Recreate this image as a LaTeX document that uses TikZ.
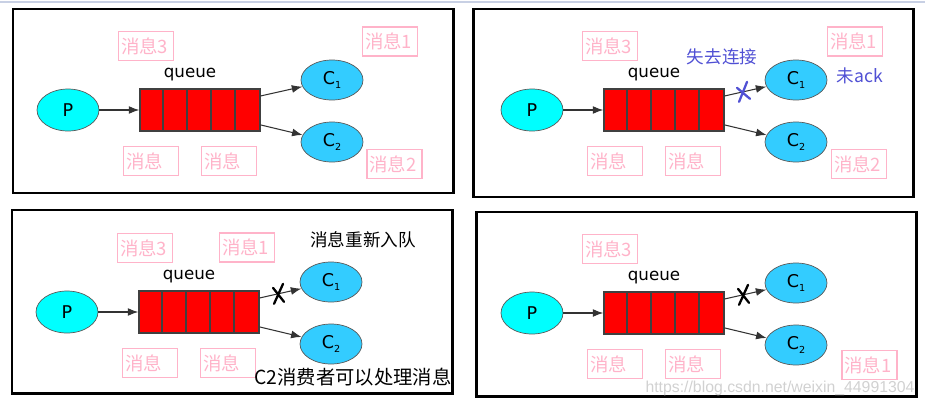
\documentclass[tikz,border=0pt]{standalone}
\usepackage{fontspec}
\setmainfont{DejaVu Sans}
\newfontfamily\cjk{Noto Sans CJK SC}
\newfontfamily\wmfont{Liberation Sans}
\usetikzlibrary{arrows.meta,shapes.geometric,calc}
\definecolor{msgpink}{HTML}{FFB3C9}
\definecolor{pcyan}{HTML}{00FFFF}
\definecolor{cblue}{HTML}{33CCFF}
\definecolor{lostblue}{HTML}{5050D4}
\definecolor{topgray}{HTML}{C8D0E4}
\newcommand\csub[1]{C\raisebox{-0.45ex}{\fontsize{5.5}{6}\selectfont #1}}

\begin{document}
\begin{tikzpicture}[x=0.02cm, y=-0.02cm,
    prod/.style={ellipse, draw=black!65, fill=pcyan, minimum width=1.24cm, minimum height=0.84cm, inner sep=0pt, font=\fontsize{10}{12}\selectfont},
    cons/.style={ellipse, draw=black!65, fill=cblue, minimum width=1.24cm, minimum height=0.8cm, inner sep=0pt, font=\fontsize{10}{12}\selectfont},
    queuebox/.style={draw=black!75, line width=0.8pt, fill=red, minimum width=2.4cm, minimum height=0.84cm, inner sep=0pt},
    msg/.style={draw=msgpink, line width=1.1pt, text=msgpink, text width=1.0cm, align=left, inner xsep=0.05cm, inner ysep=0pt, minimum height=0.58cm, font=\cjk\fontsize{10.5}{12}\selectfont},
    feed/.style={draw=black!80, line width=0.6pt, -{Latex[length=6pt,width=4.5pt]}},
    panel/.style={draw=black, line width=1.7pt},
    lost/.style={text=lostblue, inner sep=0pt, font=\cjk\fontsize{10}{12}\selectfont},
    note/.style={text=black, inner sep=0pt, font=\cjk\fontsize{10}{12}\selectfont},
    cross/.style={line width=1.3pt, line cap=round}]
  \useasboundingbox (0,0) rectangle (925,406);
  \draw[topgray, line width=0.6pt] (0,2) -- (925,2);

  % the four frames
  \draw[panel] (13,9) rectangle (453,193);
  \draw[panel] (473,9) rectangle (913,197);
  \draw[panel] (12,210) rectangle (452,393);
  \draw[panel] (476,212) rectangle (916,396);

  % what every frame has
  \foreach \i/\dx/\dy in {1/0/0, 2/464/0, 3/-1/202, 4/464/203} {
    \begin{scope}[shift={(\dx,\dy)}]
      \node[prod] (p\i) at (68,110) {P};
      \node[queuebox] (q\i) at (200,110) {};
      \foreach \k in {1,...,4}
        \draw[black!75, line width=1pt] ([xshift=\k*0.48cm]q\i.north west) -- ([xshift=\k*0.48cm]q\i.south west);
      \node[font=\fontsize{9.5}{11}\selectfont] (lbl\i) at (190,75) {queue};
      \node[cons] (ca\i) at (332,80) {\csub{1}};
      \node[cons] (cb\i) at (332,142) {\csub{2}};
      \draw[feed] (p\i) -- (q\i);
      \draw[feed] ([yshift=8pt]q\i.east) -- (ca\i);
      \draw[feed] ([yshift=-8.5pt]q\i.east) -- (cb\i);
      \path ([yshift=8pt]q\i.east) -- (ca\i) coordinate[pos=0.44] (cut\i);
      \node[msg] (mthree\i) at (146,46) {消息3};
      \node[msg] (mleft\i) at (151,161) {消息};
      \node[msg] (mright\i) at (229,161) {消息};
    \end{scope}
  }

  % frame 1
  \node[msg] (mone1) at (390,41.5) {消息1};
  \node[msg] (mtwo1) at (394.5,164) {消息2};

  % frame 2
  \node[msg] (mone2) at (855,41.5) {消息1};
  \node[msg] (mtwo2) at (859,164) {消息2};
  \node[lost] (gone) at (722,57) {失去连接};
  \node[lost] (noack) at (860,76) {未ack};
  \draw[cross, lostblue] ([shift={(4,-10)}]cut2) -- ([shift={(-4,10)}]cut2)
    ([shift={(-6,-4)}]cut2) -- ([shift={(7,7)}]cut2);

  % frame 3
  \node[msg] (mone3) at (247,247.5) {消息1};
  \node[note] (requeue) at (363,240) {消息重新入队};
  \node[note, font=\cjk\fontsize{11}{13}\selectfont] (ctwo) at (353,377) {C2消费者可以处理消息};
  \draw[cross, black] ([shift={(5,-10)}]cut3) -- ([shift={(-4,10)}]cut3)
    ([shift={(-5,-6)}]cut3) -- ([shift={(6,8)}]cut3);

  % frame 4
  \node[msg] (mone4) at (869.5,365) {消息1};
  \draw[cross, black] ([shift={(5,-10)}]cut4) -- ([shift={(-4,10)}]cut4)
    ([shift={(-5,-6)}]cut4) -- ([shift={(6,8)}]cut4);
  \node[text=black!18, inner sep=0pt, font=\wmfont\fontsize{9}{10}\selectfont] (mark) at (780,388) {https://blog.csdn.net/weixin\_44991304};
\end{tikzpicture}
\end{document}
